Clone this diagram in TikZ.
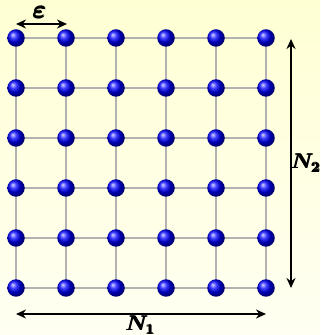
\documentclass[tikz,border=0pt]{standalone}
\usepackage{amsmath}
\usetikzlibrary{arrows.meta}

\begin{document}
\begin{tikzpicture}[
    ball/.style={circle,inner sep=0pt,minimum size=3.5mm,shading=ball,ball color=blue},
    link/.style={line width=.8pt,draw=black!30},
    dim/.style={{Stealth[length=2mm,width=1.8mm]}-{Stealth[length=2mm,width=1.8mm]},line width=1.1pt},
    lbl/.style={inner sep=0pt,font=\large\boldmath}
  ]
    % background
    \shade[top color=yellow!17,bottom color=yellow!5] (0,0) rectangle (6.4,6.7);
    \useasboundingbox (0,0) rectangle (6.4,6.7);
    % lattice sites
    \foreach \i in {0,...,5}
      \foreach \j in {0,...,5}
        \coordinate (p-\i-\j) at (0.32+\i,0.94+\j);
    \foreach \i in {0,...,5}{
      \draw[link] (p-\i-0) -- (p-\i-5);
      \draw[link] (p-0-\i) -- (p-5-\i);
    }
    \foreach \i in {0,...,5}
      \foreach \j in {0,...,5}
        \node[ball] (n-\i-\j) at (p-\i-\j) {};
    % dimensions
    \coordinate (eps-a) at (0.32,6.22);
    \coordinate (eps-b) at (1.34,6.22);
    \coordinate (nx-a) at (0.32,0.42);
    \coordinate (nx-b) at (5.32,0.42);
    \coordinate (ny-a) at (5.82,5.92);
    \coordinate (ny-b) at (5.82,0.94);
    \draw[dim] (eps-a) -- (eps-b);
    \draw[dim] (nx-a) -- (nx-b);
    \draw[dim] (ny-a) -- (ny-b);
    \node[lbl,font=\Large\boldmath] (eps) at (0.8,6.45) {$\pmb{\varepsilon}$};
    \node[lbl] (nx) at (2.82,0.2) {$\pmb{N_1}$};
    \node[lbl] (ny) at (6.13,3.44) {$\pmb{N_2}$};
  \end{tikzpicture}
\end{document}
